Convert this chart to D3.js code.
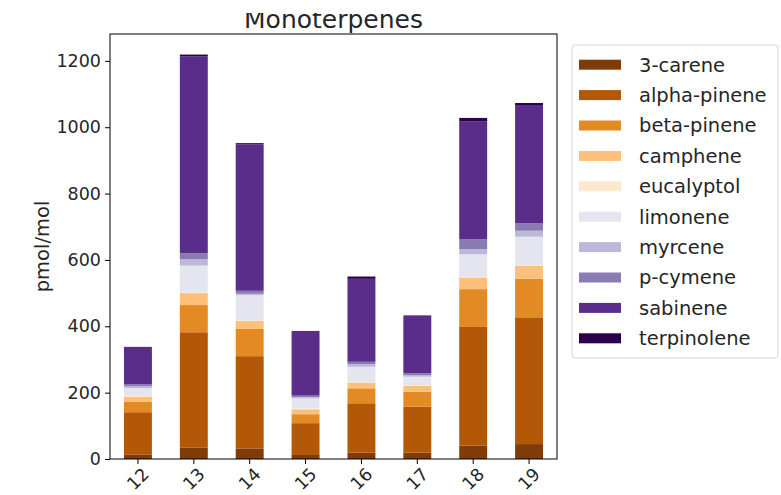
<!DOCTYPE html>
<html>
<head>
<meta charset="utf-8">
<script src="https://cdn.jsdelivr.net/npm/d3@7"></script>
<style>
  body { margin: 0; background: #fff; }
  svg { font-family: "DejaVu Sans", sans-serif; }
</style>
</head>
<body>
<svg width="781" height="495"></svg>
<script>
// the data
var categories = ["12", "13", "14", "15", "16", "17", "18", "19"];
var carene3     = [14, 35, 32, 12, 19, 19, 40, 45];
var alphaPinene = [127, 347, 278, 96, 149, 139, 358, 382];
var betaPinene  = [32, 82, 82, 27, 45, 45, 114, 116];
var camphene    = [15, 36, 24, 15, 17, 17, 35, 39];
var eucalyptol  = [2, 2, 2, 2, 2, 2, 2, 2];
var limonene    = [24, 81, 76, 31, 46, 26, 68, 86];
var myrcene     = [6, 19, 4, 4, 8, 5, 16, 18];
var pCymene     = [5, 18, 9, 4, 7, 5, 29, 23];
var sabinene    = [113, 593, 441, 195, 250, 175, 355, 356];
var terpinolene = [0, 6, 4, 0, 7, 0, 11, 6];
var yTicks = [0, 200, 400, 600, 800, 1000, 1200];

var seriesNames = ["3-carene", "alpha-pinene", "beta-pinene", "camphene", "eucalyptol",
                   "limonene", "myrcene", "p-cymene", "sabinene", "terpinolene"];
var seriesValues = [carene3, alphaPinene, betaPinene, camphene, eucalyptol,
                    limonene, myrcene, pCymene, sabinene, terpinolene];
var colors = ["#7f3b08", "#b35806", "#e38a24", "#fdc07a", "#fce8cf",
              "#e4e5ef", "#bdb8da", "#8a7bb2", "#5a2d8b", "#2d004b"];

// build rows for the stack
var rows = categories.map(function(c, i) {
  var r = { cat: c };
  seriesNames.forEach(function(n, j) { r[n] = seriesValues[j][i]; });
  return r;
});

var svg = d3.select("svg");
var plotLeft = 110, plotRight = 557, plotTop = 34, plotBottom = 459;

var x = d3.scaleBand()
    .domain(categories)
    .range([plotLeft, plotRight])
    .paddingInner(0.5)
    .paddingOuter(0.25);

var y = d3.scaleLinear()
    .domain([0, 1281])
    .range([plotBottom, plotTop]);

var stacked = d3.stack().keys(seriesNames)(rows);

//////////// BARS ////////////
svg.append("g")
  .selectAll("g")
  .data(stacked)
  .enter().append("g")
    .attr("fill", function(d, i) { return colors[i]; })
  .selectAll("rect")
  .data(function(d) { return d; })
  .enter().append("rect")
    .attr("x", function(d) { return x(d.data.cat); })
    .attr("width", x.bandwidth())
    .attr("y", function(d) { return y(d[1]); })
    .attr("height", function(d) { return y(d[0]) - y(d[1]); });

//////////// AXES ////////////
var yAxis = svg.append("g")
    .attr("transform", "translate(" + plotLeft + ",0)")
    .call(d3.axisLeft(y).tickValues(yTicks).tickFormat(d3.format("d")).tickSize(5).tickPadding(4));

var xAxis = svg.append("g")
    .attr("transform", "translate(0," + plotBottom + ")")
    .call(d3.axisBottom(x).tickSize(5).tickPadding(4));

[xAxis, yAxis].forEach(function(a) {
  a.select(".domain").remove();
  a.selectAll("line").attr("stroke", "#000").attr("stroke-width", 1);
  a.selectAll("text").attr("fill", "#262626").style("font-size", "17.5px")
    .style("font-family", "DejaVu Sans, sans-serif");
});

// rotated x labels, centered under the tick
xAxis.selectAll("text")
    .attr("y", 0)
    .attr("dy", 0)
    .attr("text-anchor", "middle")
    .attr("dominant-baseline", "central")
    .attr("transform", "translate(0,20) rotate(-45)");

// frame around the plot
svg.append("rect")
    .attr("x", plotLeft).attr("y", plotTop)
    .attr("width", plotRight - plotLeft).attr("height", plotBottom - plotTop)
    .attr("fill", "none")
    .attr("stroke", "#000")
    .attr("stroke-width", 1);

// y label
svg.append("text")
    .attr("transform", "translate(49," + ((plotTop + plotBottom) / 2) + ") rotate(-90)")
    .attr("text-anchor", "middle")
    .attr("fill", "#262626")
    .style("font-size", "19.5px")
    .text("pmol/mol");

// title (top of the letters is cut in the reference)
svg.append("clipPath")
    .attr("id", "titleClip")
  .append("rect")
    .attr("x", 0).attr("y", 13)
    .attr("width", 781).attr("height", 30);

svg.append("text")
    .attr("x", (plotLeft + plotRight) / 2)
    .attr("y", 27.5)
    .attr("text-anchor", "middle")
    .attr("fill", "#262626")
    .attr("clip-path", "url(#titleClip)")
    .style("font-size", "25px")
    .text("Monoterpenes");

//////////// LEGEND ////////////
var legend = svg.append("g")
    .attr("class", "legend")
    .attr("transform", "translate(572,45)");

legend.append("rect")
    .attr("width", 206)
    .attr("height", 313)
    .attr("rx", 3)
    .attr("fill", "#fff")
    .attr("stroke", "#d5d5d5");

seriesNames.forEach(function(name, i) {
  var item = legend.append("g")
      .attr("transform", "translate(7," + (19.7 + i * 30.4) + ")");
  item.append("rect")
      .attr("y", -5)
      .attr("width", 42)
      .attr("height", 10)
      .attr("fill", colors[i]);
  item.append("text")
      .attr("x", 60)
      .attr("y", 0)
      .attr("dy", "0.35em")
      .attr("fill", "#262626")
      .style("font-size", "19.5px")
      .text(name);
});
</script>
</body>
</html>
